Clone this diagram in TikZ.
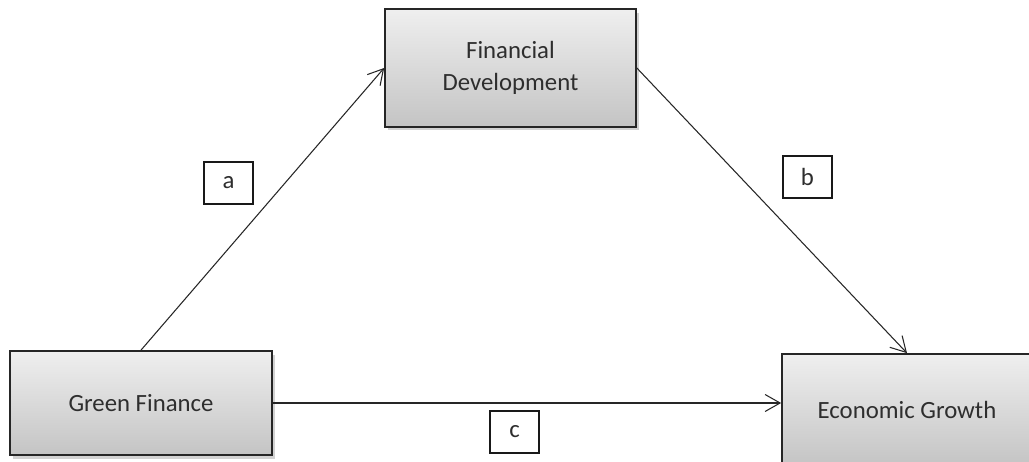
\documentclass[tikz,border=0pt]{standalone}
\usepackage{fontspec}
\setmainfont{Carlito}
\usetikzlibrary{
  arrows.meta,
  shadows,
  positioning
}
\definecolor{medText}{HTML}{2E2E2E}
\definecolor{medTop}{HTML}{EFEFEF}
\definecolor{medBot}{HTML}{C4C4C4}
\tikzset{
  varbox/.style={
    draw=black!85, line width=1pt, top color=medTop, bottom color=medBot,
    font=\fontsize{14.1}{18}\selectfont, text=medText, align=center,
    drop shadow={shadow xshift=1.5pt, shadow yshift=-2pt, opacity=0.35}
  },
  pathlbl/.style={
    draw=black!90, fill=white, line width=0.6pt, minimum width=9.8mm,
    minimum height=8.4mm, inner sep=0pt, font=\fontsize{14.1}{18}\selectfont, text=medText
  },
  effect/.style={-{Straight Barb[length=3mm, width=3.4mm]}, line width=0.6pt, black!85}
}

\begin{document}
\begin{tikzpicture}[x=0.02cm, y=-0.02cm]
  \fill[white] (0,0) rectangle (1029,462);
  \useasboundingbox (0,0) rectangle (1029,462);
  \clip (0,0) rectangle (1029,462);
  % variables
  \node[varbox, minimum width=5.02cm, minimum height=2.36cm] (fd) at (510.5,68) {Financial\\Development};
  \node[varbox, minimum width=5.24cm, minimum height=2.08cm] (gf) at (141,403) {Green Finance};
  \node[varbox, minimum width=5.0cm, minimum height=2.24cm] (eg) at (907,410) {Economic Growth};
  % paths
  \draw[effect] (gf.north) -- (fd.west);
  \draw[effect] (fd.east) -- (eg.north);
  \draw[effect] (gf.east) -- (eg.west |- gf.east);
  \node[pathlbl] (la) at (228.5,183) {a};
  \node[pathlbl] (lb) at (807.5,177) {b};
  \node[pathlbl] (lc) at (514.5,432) {c};
\end{tikzpicture}
\end{document}
